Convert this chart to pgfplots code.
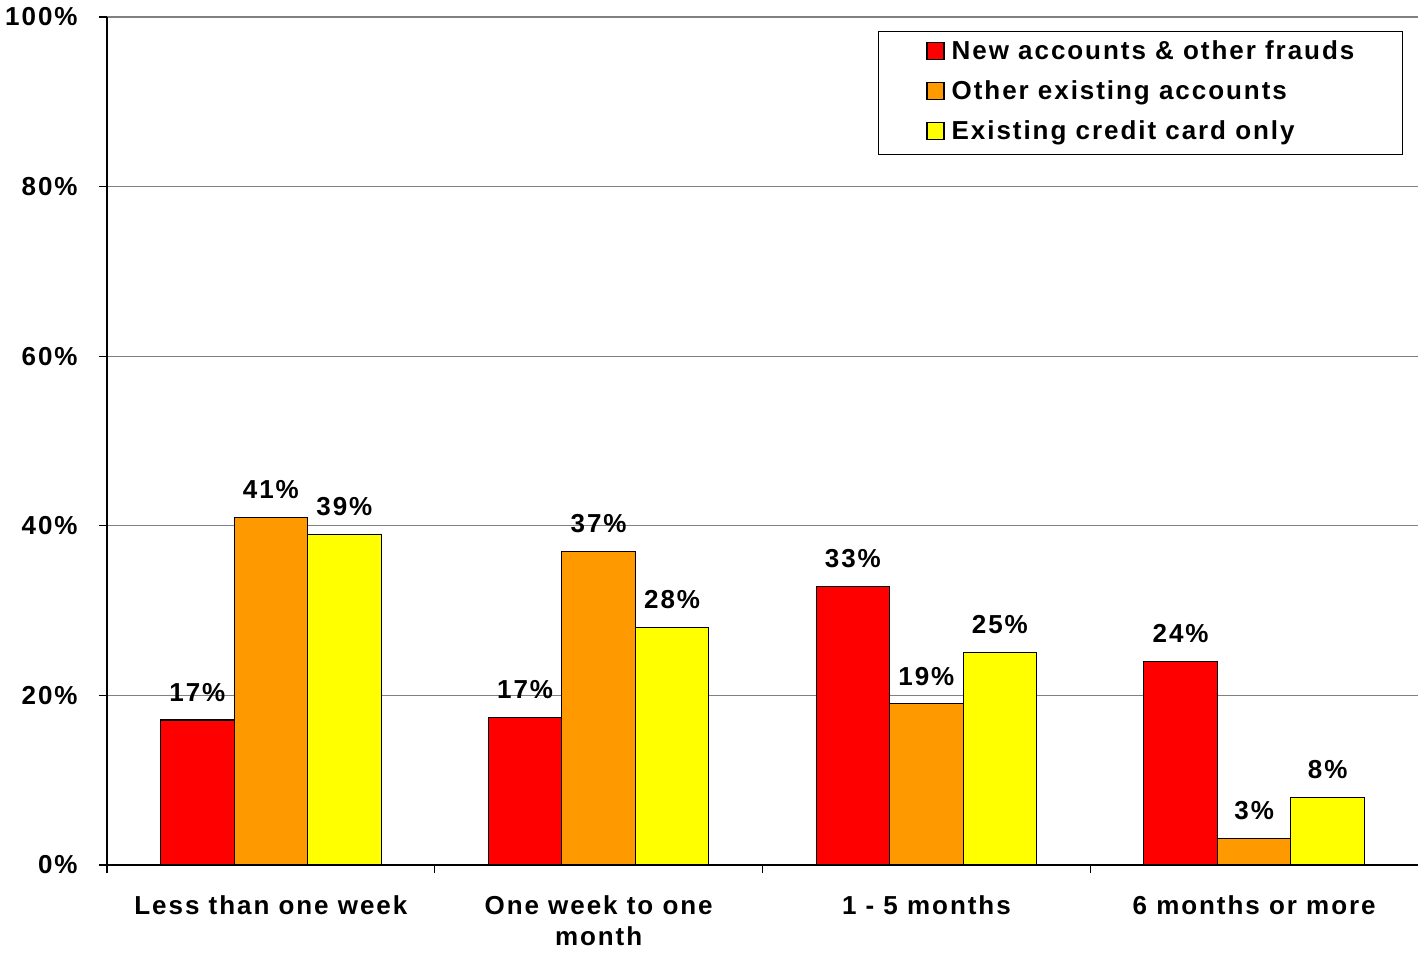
\documentclass[border=0pt]{standalone}
\usepackage{pgfplots}
\pgfplotsset{compat=1.18}
\usepackage{fontspec}
\setmainfont{Liberation Sans}[LetterSpace=7.5]
\definecolor{cred}{RGB}{255,0,0}
\definecolor{corange}{RGB}{255,153,0}
\definecolor{cyellow}{RGB}{255,255,0}
\definecolor{cgrid}{RGB}{128,128,128}
\pgfplotsset{mylegend/.style={legend image code/.code={\draw[##1] (0bp,-4.25bp) rectangle (8.5bp,4.25bp);}}}
\begin{document}
\fontsize{13bp}{15.5bp}\selectfont\bfseries
\begin{tikzpicture}
\begin{axis}[
  width=655.5bp, height=424bp, scale only axis,
  xmin=-0.5, xmax=3.5, ymin=0, ymax=100,
  ybar=0pt, bar width=36.75bp,
  axis x line*=bottom, axis y line*=left,
  axis line style={-, black, line width=0.6bp},
  /pgf/number format/assume math mode=true,
  ytick={0,20,40,60,80,100},
  yticklabel={\pgfmathprintnumber{\tick}\%},
  ymajorgrids, major grid style={cgrid, line width=0.6bp},
  xtick={0,1,2,3},
  xticklabels={Less than one week,{One week to one\\month},1 - 5 months,6 months or more},
  minor xtick={-0.5,0.5,1.5,2.5},
  major x tick style={draw=none},
  tick pos=left, tick align=outside,
  major tick length=4bp, minor tick length=4bp,
  tick style={black, line width=0.6bp},
  xticklabel style={align=center, inner sep=0pt, yshift=-11bp},
  yticklabel style={inner sep=0pt, anchor=east, xshift=-10.5bp},
  nodes near coords={\pgfmathprintnumber[fixed,precision=0]{\pgfplotspointmeta}\%},
  every node near coord/.append style={inner sep=0pt, yshift=9bp, black},
  legend cell align=left,
  legend style={at={(0.588,0.9835)}, anchor=north west, draw=black, line width=0.6bp,
    inner xsep=24bp, inner ysep=4.5bp, row sep=7.5bp,
    nodes={inner sep=0pt, text height=9.5bp, text depth=3bp, yshift=-1bp},
    /tikz/every odd column/.append style={column sep=3.5bp}},
]
\addplot[fill=cred, draw=black, line width=0.6bp, mylegend]
  coordinates {(0,17.1) (1,17.4) (2,32.8) (3,24.0)};
\addplot[fill=corange, draw=black, line width=0.6bp, mylegend]
  coordinates {(0,41.0) (1,37.0) (2,19.0) (3,3.1)};
\addplot[fill=cyellow, draw=black, line width=0.6bp, mylegend]
  coordinates {(0,39.0) (1,28.0) (2,25.1) (3,8.0)};
\legend{New accounts \& other frauds, Other existing accounts, Existing credit card only}
\end{axis}
\pgfresetboundingbox
\path[use as bounding box] ([shift={(-53.5bp,-43.5bp)}]current axis.south west) rectangle ([shift={(0bp,8.5bp)}]current axis.north east);
\end{tikzpicture}
\end{document}
